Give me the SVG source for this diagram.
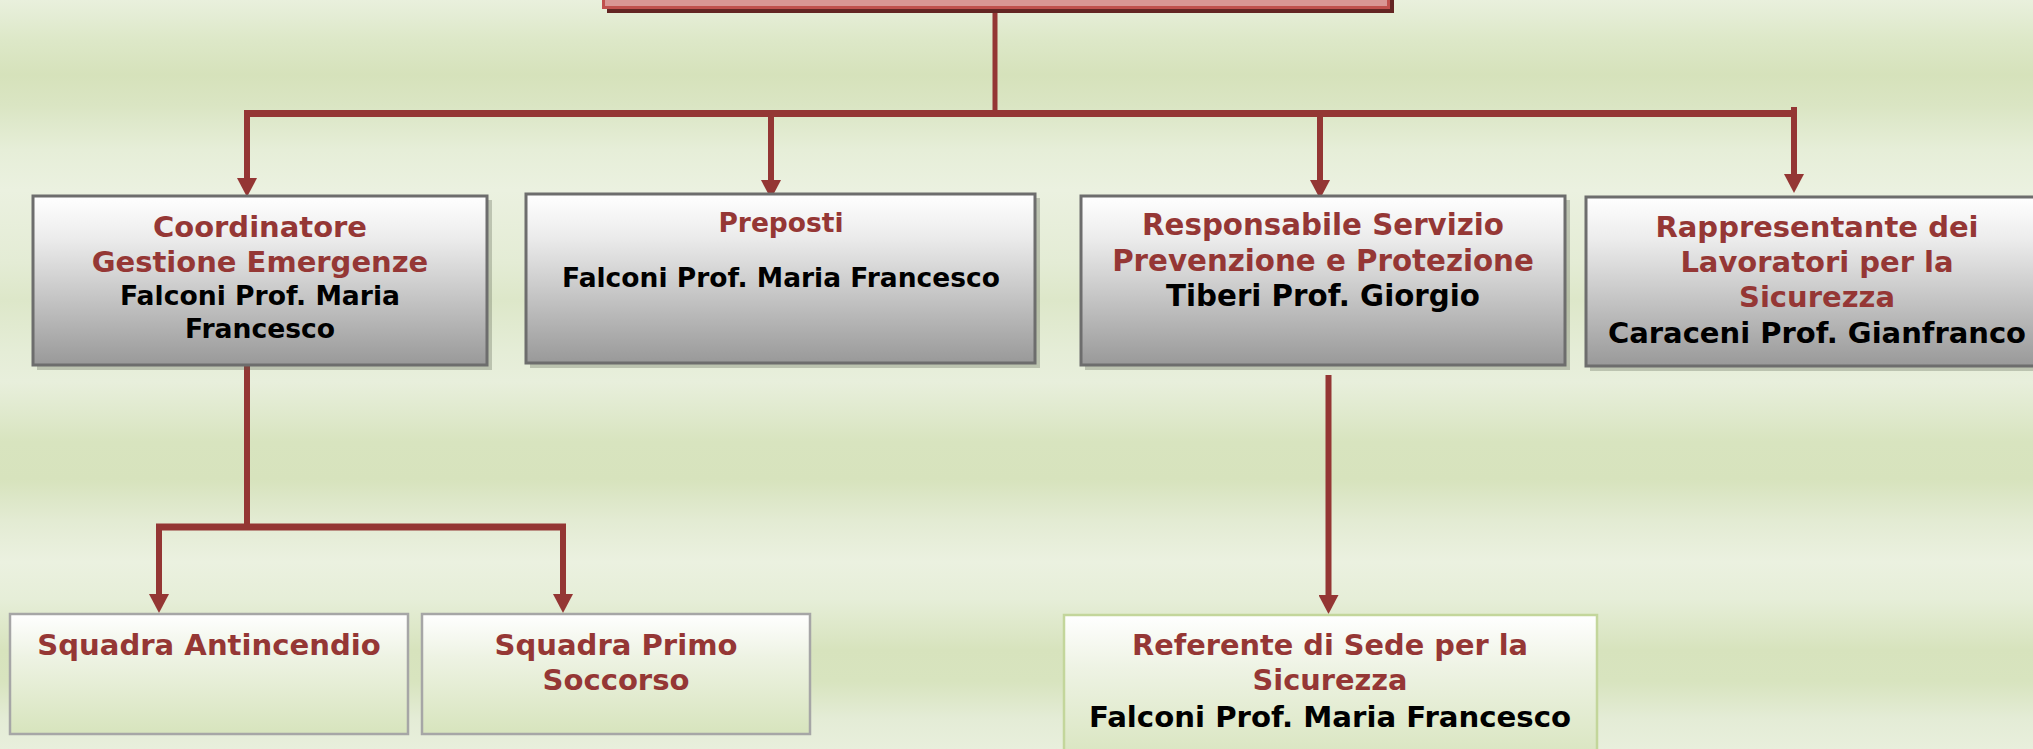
<svg xmlns="http://www.w3.org/2000/svg" width="2033" height="749" viewBox="0 0 2033 749">
  <defs>
    <linearGradient id="bg" x1="0" y1="0" x2="0" y2="749" gradientUnits="userSpaceOnUse">
      <stop offset="0" stop-color="#e9f0dd"/>
      <stop offset="0.053" stop-color="#dde8c8"/>
      <stop offset="0.10" stop-color="#d6e2bb"/>
      <stop offset="0.14" stop-color="#dae5c3"/>
      <stop offset="0.20" stop-color="#e6eed8"/>
      <stop offset="0.254" stop-color="#ebf1e0"/>
      <stop offset="0.35" stop-color="#e4ecd5"/>
      <stop offset="0.40" stop-color="#dde7c9"/>
      <stop offset="0.47" stop-color="#e5edd7"/>
      <stop offset="0.51" stop-color="#e8efdc"/>
      <stop offset="0.59" stop-color="#d8e4bf"/>
      <stop offset="0.64" stop-color="#d7e3bd"/>
      <stop offset="0.695" stop-color="#e3ebd3"/>
      <stop offset="0.75" stop-color="#ebf1e0"/>
      <stop offset="0.80" stop-color="#e6eed8"/>
      <stop offset="0.868" stop-color="#d7e3bd"/>
      <stop offset="0.91" stop-color="#d8e4bf"/>
      <stop offset="0.96" stop-color="#e4ecd6"/>
      <stop offset="1" stop-color="#e8efdc"/>
    </linearGradient>
    <linearGradient id="grayFill" x1="0" y1="0" x2="0" y2="1">
      <stop offset="0" stop-color="#ffffff"/>
      <stop offset="0.25" stop-color="#ececec"/>
      <stop offset="1" stop-color="#999999"/>
    </linearGradient>
    <linearGradient id="greenFill" x1="0" y1="0" x2="0" y2="1">
      <stop offset="0" stop-color="#ffffff"/>
      <stop offset="0.35" stop-color="#eef3e4"/>
      <stop offset="1" stop-color="#d7e4bd"/>
    </linearGradient>
    <marker id="arrow" markerUnits="userSpaceOnUse" markerWidth="20" markerHeight="20" refX="0" refY="10" orient="auto" viewBox="0 0 19 20">
      <path d="M0,0 L19,10 L0,20 Z" fill="#943634"/>
    </marker>
    <style>
      .lvl1 { fill: url(#grayFill); stroke: #6d6d6d; stroke-width: 3; }
      .lvl2 { fill: url(#greenFill); stroke: #a6a6a6; stroke-width: 2.5; }
      .lvl2g { fill: url(#greenFill); stroke: #c3d69b; stroke-width: 2.5; }
      .shadow { fill: #5a6050; opacity: 0.3; }
      .conn { stroke: #943634; fill: none; stroke-linecap: butt; }
      .bar { stroke-width: 7; }
      .drop { stroke-width: 6; }
      text { font-family: "DejaVu Sans", Verdana, "Liberation Sans", sans-serif; font-weight: bold; text-anchor: middle; }
      .title { fill: #953735; }
      .name { fill: #000000; }
    </style>
  </defs>

  <!-- background -->
  <rect x="0" y="0" width="2033" height="749" fill="url(#bg)"/>

  <!-- connectors -->
  <g id="connectors">
    <line class="conn" x1="995" y1="10" x2="995" y2="113" stroke-width="5"/>
    <line class="conn bar" x1="244" y1="113.5" x2="1797" y2="113.5"/>
    <line class="conn drop" x1="247" y1="110" x2="247" y2="178" marker-end="url(#arrow)"/>
    <line class="conn drop" x1="771" y1="113" x2="771" y2="180" marker-end="url(#arrow)"/>
    <line class="conn drop" x1="1320" y1="113" x2="1320" y2="180" marker-end="url(#arrow)"/>
    <line class="conn drop" x1="1794" y1="107" x2="1794" y2="174" marker-end="url(#arrow)"/>
    <line class="conn drop" x1="247" y1="366" x2="247" y2="527"/>
    <line class="conn bar" x1="156" y1="527" x2="566" y2="527"/>
    <line class="conn drop" x1="159" y1="524" x2="159" y2="594" marker-end="url(#arrow)"/>
    <line class="conn drop" x1="563" y1="524" x2="563" y2="594" marker-end="url(#arrow)"/>
    <line class="conn drop" x1="1328.5" y1="375" x2="1328.5" y2="595" marker-end="url(#arrow)"/>
  </g>

  <!-- top node (partly above the frame) -->
  <g id="node-top">
    <rect x="607" y="-60" width="787" height="73" fill="#632523"/>
    <rect x="603.5" y="-65" width="785" height="72.5" fill="#d99694" stroke="#c0504d" stroke-width="3"/>
  </g>

  <g id="node-coordinatore">
    <rect class="shadow" x="37" y="200" width="455" height="170"/>
    <rect class="lvl1" x="33" y="196" width="454" height="169"/>
    <text class="title" x="260" y="237" font-size="29">Coordinatore</text>
    <text class="title" x="260" y="272" font-size="29">Gestione Emergenze</text>
    <text class="name" x="260" y="305" font-size="26.6">Falconi Prof. Maria</text>
    <text class="name" x="260" y="338" font-size="26.6">Francesco</text>
  </g>

  <g id="node-preposti">
    <rect class="shadow" x="530" y="198" width="510" height="170"/>
    <rect class="lvl1" x="526" y="194" width="509" height="169"/>
    <text class="title" x="781" y="232" font-size="26.5">Preposti</text>
    <text class="name" x="781" y="287" font-size="26.5">Falconi Prof. Maria Francesco</text>
  </g>

  <g id="node-rspp">
    <rect class="shadow" x="1085" y="200" width="485" height="170"/>
    <rect class="lvl1" x="1081" y="196" width="484" height="169"/>
    <text class="title" x="1323" y="235" font-size="29.3">Responsabile Servizio</text>
    <text class="title" x="1323" y="271" font-size="29.3">Prevenzione e Protezione</text>
    <text class="name" x="1323" y="306" font-size="29.3">Tiberi Prof. Giorgio</text>
  </g>

  <g id="node-rls">
    <rect class="shadow" x="1590" y="201" width="470" height="170"/>
    <rect class="lvl1" x="1586" y="197" width="462" height="169"/>
    <text class="title" x="1817" y="237" font-size="29">Rappresentante dei</text>
    <text class="title" x="1817" y="272" font-size="29">Lavoratori per la</text>
    <text class="title" x="1817" y="307" font-size="29">Sicurezza</text>
    <text class="name" x="1817" y="343" font-size="29">Caraceni Prof. Gianfranco</text>
  </g>

  <g id="node-antincendio">
    <rect class="lvl2" x="10" y="614" width="398" height="120"/>
    <text class="title" x="209" y="655" font-size="29.1">Squadra Antincendio</text>
  </g>

  <g id="node-primo-soccorso">
    <rect class="lvl2" x="422" y="614" width="388" height="120"/>
    <text class="title" x="616" y="655" font-size="29.1">Squadra Primo</text>
    <text class="title" x="616" y="690" font-size="29.1">Soccorso</text>
  </g>

  <g id="node-referente">
    <rect class="lvl2g" x="1064" y="615" width="533" height="150"/>
    <text class="title" x="1330" y="655" font-size="28.8">Referente di Sede per la</text>
    <text class="title" x="1330" y="690" font-size="28.8">Sicurezza</text>
    <text class="name" x="1330" y="727" font-size="29.2">Falconi Prof. Maria Francesco</text>
  </g>
</svg>
